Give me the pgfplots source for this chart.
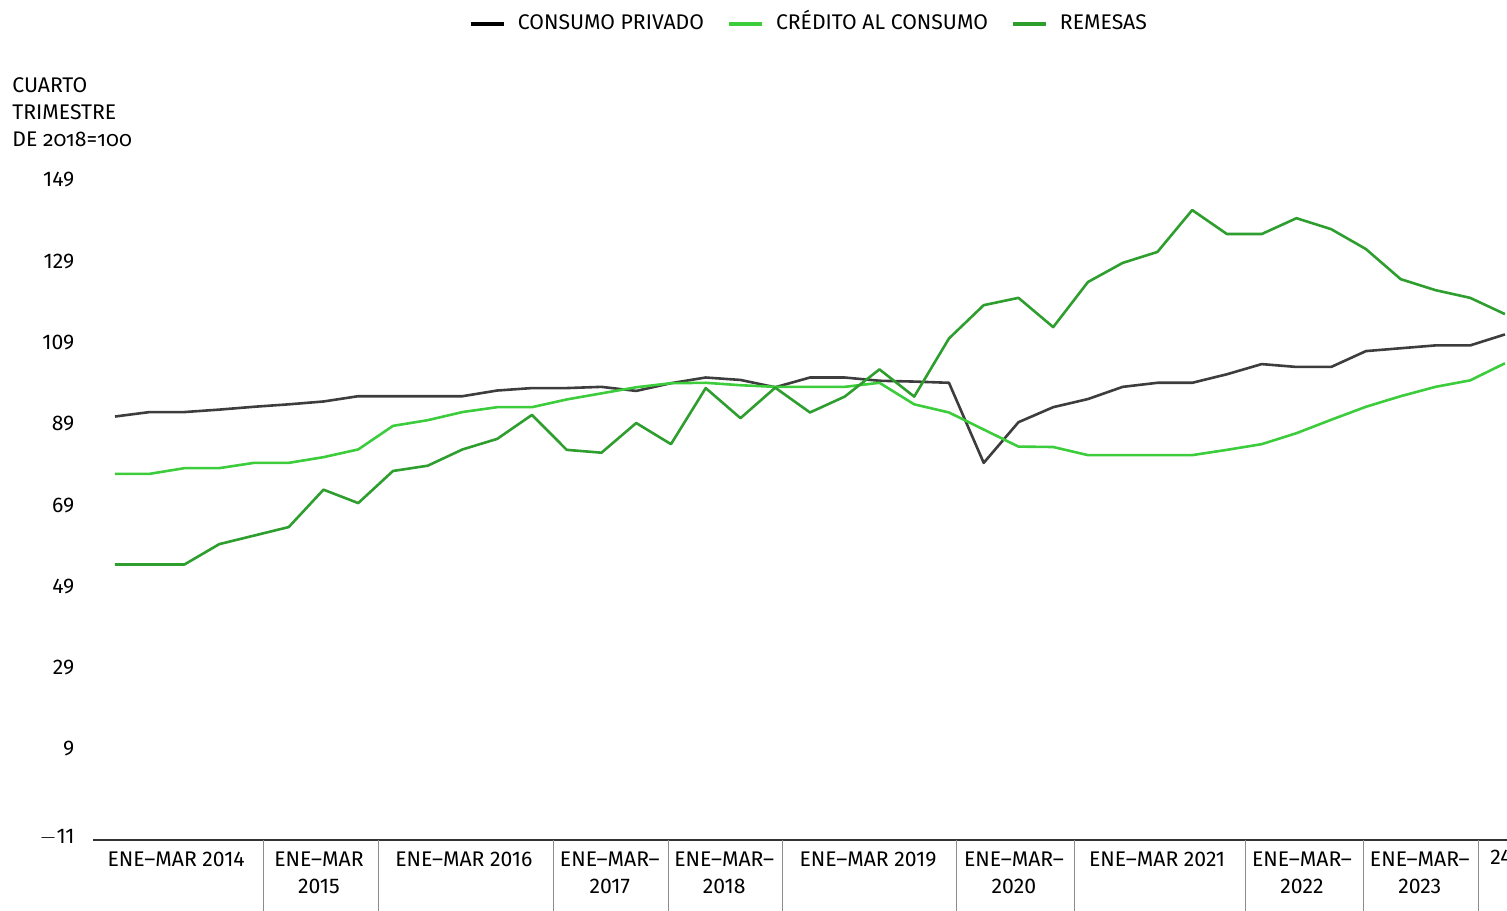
\documentclass[border=0pt]{standalone}
\usepackage{pgfplots}
\pgfplotsset{compat=1.18}
\usepackage{fontspec}
\setmainfont{Fira Sans}
\newfontfamily\oldnum[Numbers=OldStyle]{Fira Sans}

\definecolor{consumo}{HTML}{3D3D3D}
\definecolor{credito}{HTML}{3CCC3C}
\definecolor{remesas}{HTML}{2E9E2E}

% quarterly index, 0 = ENE-MAR 2014
\begin{document}
\fontsize{10.6}{13.5}\selectfont
\begin{tikzpicture}
\begin{axis}[
    at={(0,0)}, anchor=south west,
    scale only axis,
    width=707pt, height=330pt,
    xmin=-0.633, xmax=40.06,
    ymin=-13.4, ymax=149,
    axis x line=bottom,
    axis y line=left,
    y axis line style={draw=none},
    x axis line style={-, draw=black!80, line width=0.8pt},
    tick style={draw=none},
    ytick={9,29,49,69,89,109,129,149},
    yticklabel style={xshift=-3.5pt},
    xtick={1.76,5.87,10.04,14.24,17.53,21.67,25.87,29.99,34.16,37.55},
    xticklabels={ENE–MAR 2014,ENE–MAR\\2015,ENE–MAR 2016,ENE–MAR–\\2017,ENE–MAR–\\2018,ENE–MAR 2019,ENE–MAR–\\2020,ENE–MAR 2021,ENE–MAR–\\2022,ENE–MAR–\\2023},
    xticklabel style={align=center, anchor=north, yshift=0pt},
    /pgf/number format/assume math mode=true,
    clip=false,
    legend columns=3,
    legend style={at={(0.507,1.236)}, anchor=center, draw=none, fill=none,
        nodes={text height=7.6pt, text depth=2pt},
        /tikz/every odd column/.append style={column sep=4pt},
        /tikz/every even column/.append style={column sep=9.5pt}},
    legend cell align=left,
    legend image code/.code={\draw[#1, line width=2pt] (0pt,0pt) -- (16.5pt,0pt);},
    every axis plot/.append style={line width=1.3pt, line join=round},
]
\addplot[consumo, forget plot] coordinates {
(0,90.8)(1,91.9)(2,91.9)(3,92.5)(4,93.2)(5,93.8)(6,94.5)(7,95.8)(8,95.8)(9,95.8)
(10,95.8)(11,97.2)(12,97.8)(13,97.8)(14,98.1)(15,97.1)(16,99.0)(17,100.4)(18,99.8)(19,98.0)
(20,100.4)(21,100.4)(22,99.6)(23,99.4)(24,99.1)(25,79.4)(26,89.4)(27,93.1)(28,95.1)(29,98.1)
(30,99.1)(31,99.1)(32,101.2)(33,103.7)(34,103.0)(35,103.0)(36,106.9)(37,107.6)(38,108.3)(39,108.3)
(40,111.0)
};
\addlegendimage{black}
\addlegendentry{CONSUMO PRIVADO}
\addplot[credito] coordinates {
(0,76.7)(1,76.7)(2,78.1)(3,78.1)(4,79.4)(5,79.4)(6,80.8)(7,82.7)(8,88.5)(9,89.9)
(10,91.9)(11,93.1)(12,93.1)(13,95.0)(14,96.5)(15,98.0)(16,99.0)(17,99.1)(18,98.5)(19,98.1)
(20,98.1)(21,98.1)(22,99.1)(23,93.8)(24,91.8)(25,87.6)(26,83.4)(27,83.3)(28,81.3)(29,81.3)
(30,81.3)(31,81.3)(32,82.6)(33,84.0)(34,86.7)(35,90.0)(36,93.2)(37,95.8)(38,98.1)(39,99.7)
(40,103.9)
};
\addlegendentry{CRÉDITO AL CONSUMO}
\addplot[remesas] coordinates {
(0,54.4)(1,54.4)(2,54.4)(3,59.4)(4,61.5)(5,63.6)(6,72.8)(7,69.5)(8,77.4)(9,78.7)
(10,82.7)(11,85.3)(12,91.2)(13,82.6)(14,81.9)(15,89.2)(16,84.0)(17,97.8)(18,90.4)(19,97.9)
(20,91.8)(21,95.7)(22,102.4)(23,95.7)(24,110.0)(25,118.2)(26,120.0)(27,112.8)(28,123.9)(29,128.6)
(30,131.3)(31,141.6)(32,135.7)(33,135.7)(34,139.6)(35,136.9)(36,132.0)(37,124.6)(38,121.9)(39,120.0)
(40,116.0)
};
\addlegendentry{REMESAS}
% lowest tick label, set a little below its level as in the original
\node[anchor=east, inner sep=0pt] at ([xshift=-9pt,yshift=-3.5pt]axis cs:-0.633,-11) {$-$11};
% category separators below the axis
\pgfplotsinvokeforeach{4.26,7.57,12.63,15.94,19.22,24.23,27.60,32.52,35.94,39.25}{
  \draw[black!45, line width=0.5pt] (axis cs:#1,-13.4) -- ([yshift=-36pt]axis cs:#1,-13.4);
}
\node[anchor=north west, inner sep=0pt] at ([yshift=-5pt]axis cs:39.57,-13.4) {24};
\end{axis}
\node[anchor=north west, align=left, inner sep=0pt, font=\fontsize{10.6}{13.5}\selectfont]
  at (-40.5pt,381.5pt) {CUARTO\\TRIMESTRE\\DE {\oldnum 2018=100}};
\pgfresetboundingbox
\path[use as bounding box] (-46.5pt,-35pt) rectangle (707pt,420pt);
\end{tikzpicture}
\end{document}
